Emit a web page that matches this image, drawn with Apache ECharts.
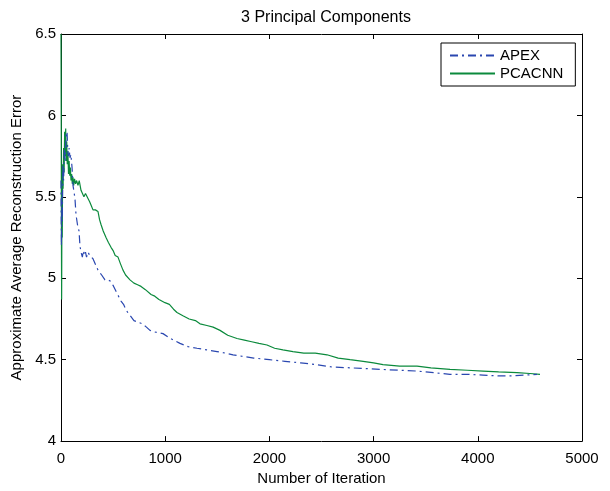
<!DOCTYPE html>
<html>
<head>
<meta charset="utf-8">
<script src="https://cdn.jsdelivr.net/npm/echarts@6/dist/echarts.min.js"></script>
<style>
  html, body { margin: 0; padding: 0; background: #fff; }
  #chart { width: 610px; height: 491px; }
</style>
</head>
<body>
<div id="chart"></div>
<script>
// Reconstruction error of the two learning rules, sampled along the iterations
const apexIter = [0, 4, 8, 12, 18, 25, 32, 40, 48, 58, 64, 70, 78, 86, 95, 106, 115, 125, 134, 144, 158, 173, 182, 192, 205, 215, 225, 235, 245, 260, 275, 288, 307, 326, 355, 390, 422, 450, 480, 505, 528, 552, 576, 600, 614, 640, 665, 700, 740, 780, 820, 854, 900, 979, 1050, 1142, 1220, 1305, 1400, 1497, 1580, 1651, 1750, 1850, 2000, 2150, 2300, 2450, 2600, 2774, 2930, 3090, 3250, 3417, 3580, 3733, 3900, 4050, 4200, 4309, 4450, 4568];
const apexErr = [5.6, 5.2, 5.5, 5.35, 5.7, 5.6, 5.8, 5.72, 5.88, 5.9, 5.8, 5.75, 5.8, 5.74, 5.76, 5.68, 5.57, 5.53, 5.49, 5.39, 5.33, 5.29, 5.2, 5.16, 5.13, 5.17, 5.14, 5.16, 5.13, 5.16, 5.14, 5.15, 5.12, 5.11, 5.05, 5.02, 4.99, 4.99, 4.98, 4.95, 4.92, 4.89, 4.86, 4.84, 4.82, 4.79, 4.77, 4.74, 4.73, 4.72, 4.7, 4.68, 4.67, 4.66, 4.63, 4.6, 4.58, 4.57, 4.56, 4.55, 4.54, 4.53, 4.52, 4.51, 4.5, 4.49, 4.48, 4.47, 4.455, 4.45, 4.445, 4.44, 4.435, 4.43, 4.42, 4.41, 4.41, 4.405, 4.4, 4.4, 4.405, 4.41];

const pcaIter = [0, 2, 4, 6, 9, 12, 16, 20, 25, 30, 35, 40, 45, 50, 55, 60, 66, 72, 78, 84, 90, 96, 102, 108, 115, 122, 130, 140, 150, 163, 175, 192, 205, 220, 235, 259, 275, 288, 307, 330, 355, 370, 384, 405, 432, 455, 480, 500, 520, 547, 570, 595, 620, 662, 700, 735, 768, 810, 864, 900, 940, 998, 1040, 1080, 1113, 1170, 1230, 1290, 1334, 1400, 1460, 1526, 1600, 1689, 1760, 1830, 1900, 1977, 2050, 2130, 2226, 2330, 2440, 2553, 2660, 2774, 2900, 3000, 3090, 3250, 3417, 3550, 3733, 3900, 4050, 4200, 4376, 4500, 4597];
const pcaErr = [6.5, 6.05, 5.3, 4.87, 5.45, 5.25, 5.7, 5.55, 5.8, 5.65, 5.9, 5.75, 5.92, 5.72, 5.84, 5.7, 5.78, 5.64, 5.72, 5.63, 5.68, 5.6, 5.64, 5.58, 5.62, 5.57, 5.61, 5.58, 5.6, 5.57, 5.6, 5.54, 5.55, 5.5, 5.52, 5.49, 5.47, 5.45, 5.42, 5.42, 5.41, 5.36, 5.33, 5.29, 5.25, 5.22, 5.19, 5.17, 5.14, 5.13, 5.09, 5.05, 5.02, 4.99, 4.97, 4.96, 4.95, 4.93, 4.9, 4.89, 4.87, 4.85, 4.84, 4.81, 4.79, 4.77, 4.75, 4.74, 4.72, 4.71, 4.7, 4.68, 4.65, 4.63, 4.62, 4.61, 4.6, 4.59, 4.57, 4.56, 4.55, 4.54, 4.54, 4.53, 4.51, 4.5, 4.49, 4.48, 4.47, 4.46, 4.46, 4.45, 4.44, 4.435, 4.43, 4.425, 4.42, 4.415, 4.41];

const xTicks = [0, 1000, 2000, 3000, 4000, 5000];
const yTicks = [4, 4.5, 5, 5.5, 6, 6.5];

const FONT = '"Liberation Sans", Arial, sans-serif';
const pair = (xs, ys) => xs.map((x, i) => [x, ys[i]]);

const boxAxis = {
  axisLine: { show: true, onZero: false, lineStyle: { color: '#000', width: 1 } },
  axisTick: { show: true, inside: true, length: 5, lineStyle: { color: '#000' } },
  splitLine: { show: false }
};

const chart = echarts.init(document.getElementById('chart'), null, { renderer: 'canvas' });
chart.setOption({
  backgroundColor: '#fff',
  animation: false,
  title: {
    text: '3 Principal Components',
    left: 321, top: 5, textAlign: 'center',
    textStyle: { fontFamily: FONT, fontSize: 16, fontWeight: 'normal', color: '#000' }
  },
  legend: {
    orient: 'vertical',
    left: 441, top: 43,
    padding: [5, 12, 5, 8],
    itemGap: 3,
    itemWidth: 45, itemHeight: 14,
    itemStyle: { opacity: 0 },
    borderColor: '#000', borderWidth: 1, backgroundColor: '#fff',
    textStyle: { fontFamily: FONT, fontSize: 15, color: '#000' },
    data: ['APEX', 'PCACNN']
  },
  grid: { left: 61, right: 28, top: 34, bottom: 46 },
  xAxis: [
    Object.assign({}, boxAxis, {
      type: 'value', min: xTicks[0], max: xTicks[xTicks.length - 1], interval: 1000,
      name: 'Number of Iteration', nameLocation: 'middle', nameGap: 26,
      nameTextStyle: { fontFamily: FONT, fontSize: 15, color: '#000' },
      axisLabel: { fontFamily: FONT, fontSize: 15, color: '#000', margin: 10, formatter: v => String(v) }
    }),
    Object.assign({}, boxAxis, {
      type: 'value', position: 'top', min: xTicks[0], max: xTicks[xTicks.length - 1], interval: 1000,
      axisLabel: { show: false }
    })
  ],
  yAxis: [
    Object.assign({}, boxAxis, {
      type: 'value', min: yTicks[0], max: yTicks[yTicks.length - 1], interval: 0.5,
      name: 'Approximate Average Reconstruction Error', nameLocation: 'middle', nameGap: 33,
      nameTextStyle: { fontFamily: FONT, fontSize: 15, color: '#000' },
      axisLabel: { fontFamily: FONT, fontSize: 15, color: '#000', margin: 5, formatter: v => String(v) }
    }),
    Object.assign({}, boxAxis, {
      type: 'value', position: 'right', min: yTicks[0], max: yTicks[yTicks.length - 1], interval: 0.5,
      axisLabel: { show: false }
    })
  ],
  series: [
    {
      name: 'APEX', type: 'line', xAxisIndex: 0, yAxisIndex: 0,
      symbol: 'none', z: 3,
      lineStyle: { color: '#2a47b0', width: 1.2, type: [8, 4, 2, 4] },
      itemStyle: { color: '#2a47b0' },
      data: pair(apexIter, apexErr)
    },
    {
      name: 'PCACNN', type: 'line', xAxisIndex: 0, yAxisIndex: 0,
      symbol: 'none', z: 2,
      lineStyle: { color: '#0b8a3c', width: 1.2 },
      itemStyle: { color: '#0b8a3c' },
      data: pair(pcaIter, pcaErr)
    }
  ]
});
</script>
</body>
</html>
